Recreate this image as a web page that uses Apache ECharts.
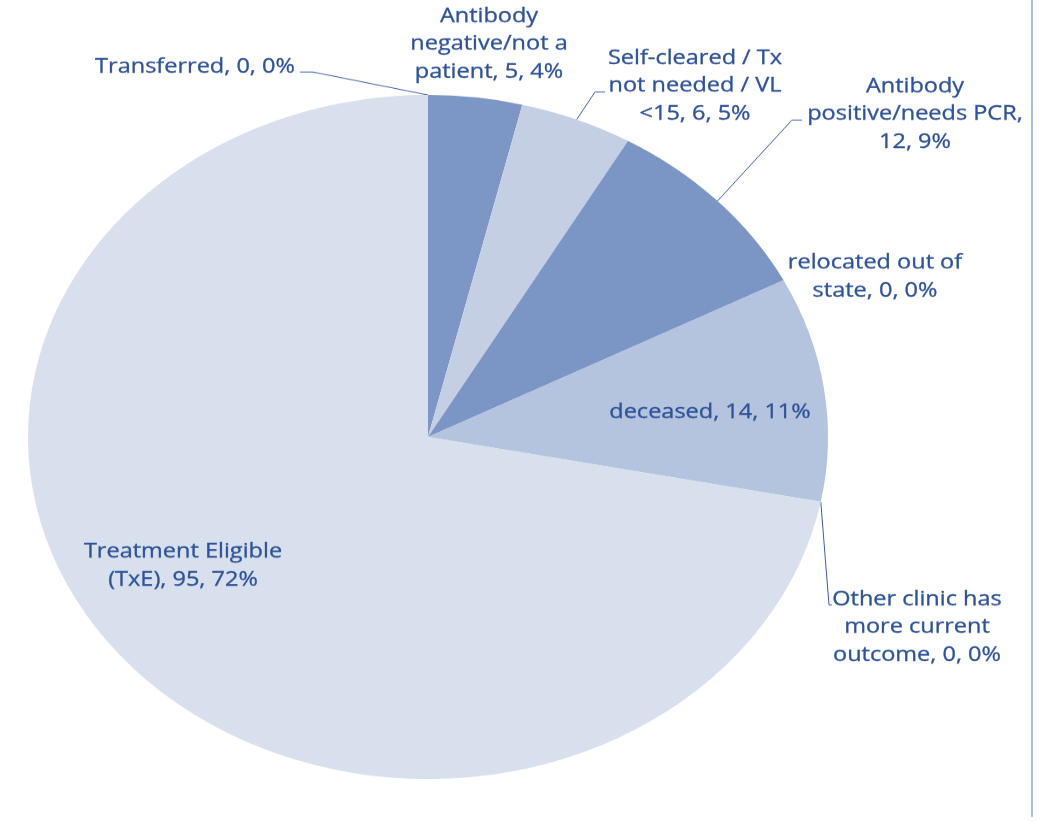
<!DOCTYPE html>
<html>
<head>
<meta charset="utf-8">
<script src="https://cdn.jsdelivr.net/npm/echarts@6/dist/echarts.min.js"></script>
<style>
  html, body { margin: 0; padding: 0; background: #ffffff; overflow: hidden; }
  /* The pie is drawn as an ellipse: the chart is rendered taller and squeezed vertically. */
  #stage { width: 1040px; height: 829px; overflow: hidden; position: relative; }
  #chart { width: 1040px; height: 970px; transform: scaleY(0.855); transform-origin: 0 0; }
</style>
</head>
<body>
<div id="stage"><div id="chart"></div></div>
<script>
// Patient outcome categories, clockwise from 12 o'clock
const categories = [
  'Transferred',
  'Antibody\nnegative/not a\npatient',
  'Self-cleared / Tx\nnot needed / VL\n<15',
  'Antibody\npositive/needs PCR',
  'relocated out of\nstate',
  'deceased',
  'Other clinic has\nmore current\noutcome',
  'Treatment Eligible\n(TxE)'
];
const counts = [0, 5, 6, 12, 0, 14, 0, 95];
// Whether the "count, percent" part starts on its own line
const valueOnNewLine = [false, false, false, true, false, false, false, false];

const sliceColors = ['#7c96c5', '#7c96c5', '#c5cfe4', '#7b95c5', '#b4c3de', '#b4c3de', '#d8dfed', '#d8dfed'];

const SY = 0.855;               // vertical squeeze of the stage
const TEXT = '#2d5297';

// Label centres (screen px) and leader-line elbows for each slice
const labelSpots = [
  { x: 195, y: 67,  line: [[313, 72], [300, 72]] },
  { x: 489, y: 44 },
  { x: 695, y: 86,  line: [[595, 92], [605, 92]] },
  { x: 915, y: 114, line: [[792, 120], [802, 120]] },
  { x: 875, y: 277 },
  { x: 710, y: 412 },
  { x: 917, y: 627, line: [[829, 605], [832, 605]] },
  { x: 183, y: 566 }
];

const chart = echarts.init(document.getElementById('chart'), null, { renderer: 'canvas' });

const data = categories.map((name, i) => ({
  name: name,
  value: counts[i],
  itemStyle: { color: sliceColors[i] },
  labelLine: { show: !!labelSpots[i].line }
}));

chart.setOption({
  animation: false,
  backgroundColor: '#ffffff',
  graphic: [{
    type: 'line',
    shape: { x1: 1032, y1: 0, x2: 1032, y2: 817 / SY },
    style: { stroke: '#8eaadb', lineWidth: 1.5 }
  }],
  series: [{
    type: 'pie',
    center: [428, 437 / SY],
    radius: 400,
    startAngle: 90,
    clockwise: true,
    avoidLabelOverlap: false,
    minShowLabelAngle: 0,
    data: data,
    itemStyle: { borderWidth: 0 },
    emphasis: { disabled: true },
    label: {
      show: true,
      color: TEXT,
      fontFamily: '"Open Sans", "Noto Sans", sans-serif',
      fontSize: 23.5,
      lineHeight: 32.5,
      align: 'center',
      textBorderColor: TEXT,
      textBorderWidth: 0.35,
      formatter: function (p) {
        const i = p.dataIndex;
        const pct = Math.round(p.percent);
        return p.name + (valueOnNewLine[i] ? ',\n' : ', ') + p.value + ', ' + pct + '%';
      }
    },
    labelLine: {
      lineStyle: { color: '#3c5fa6', width: 1 }
    },
    labelLayout: function (params) {
      const spot = labelSpots[params.dataIndex];
      const out = {
        x: spot.x,
        y: spot.y / SY,
        align: 'center',
        verticalAlign: 'middle'
      };
      if (spot.line && params.labelLinePoints) {
        const start = params.labelLinePoints[0];
        out.labelLinePoints = [start].concat(spot.line.map(p => [p[0], p[1] / SY]));
      }
      return out;
    }
  }]
});
</script>
</body>
</html>
